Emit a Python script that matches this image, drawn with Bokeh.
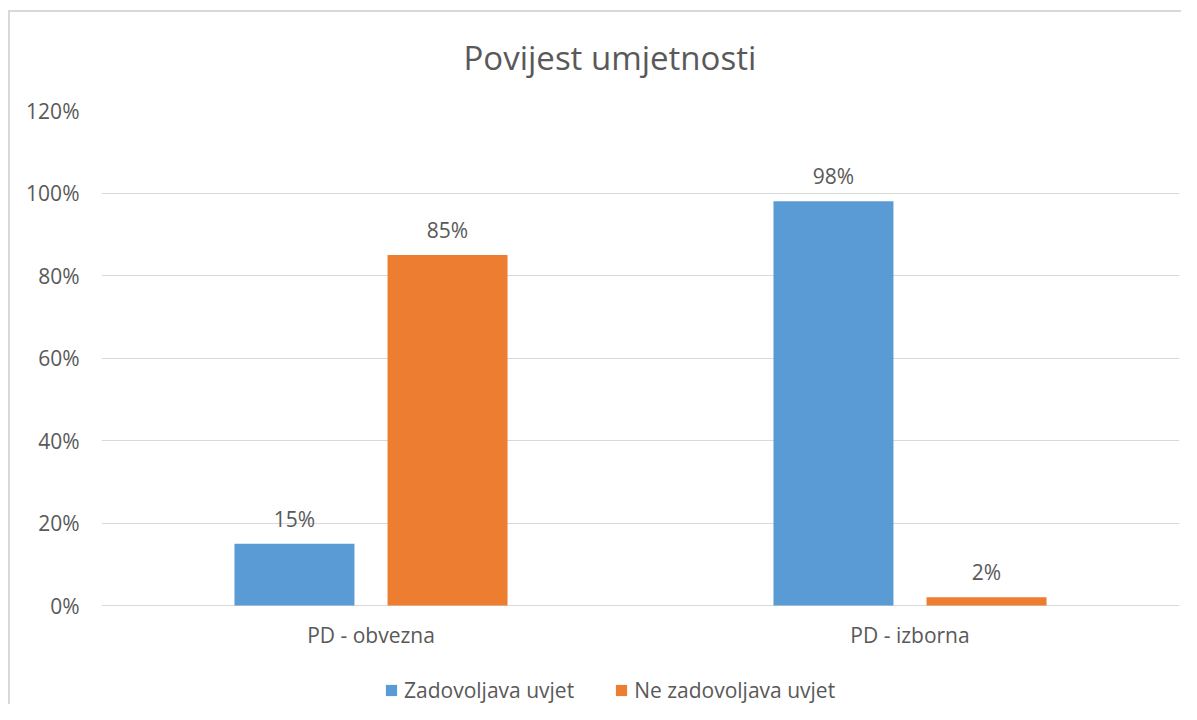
from bokeh.plotting import figure
from bokeh.models import ColumnDataSource, Range1d, FactorRange, NumeralTickFormatter, Legend, LegendItem
from bokeh.transform import dodge
from bokeh.embed import file_html
from bokeh.resources import INLINE
from bokeh.core.properties import value

categories = ["PD - obvezna", "PD - izborna"]
series_names = ["Zadovoljava uvjet", "Ne zadovoljava uvjet"]
zadovoljava = [0.15, 0.98]
ne_zadovoljava = [0.85, 0.02]
colors = ["#5B9BD5", "#ED7D31"]
y_ticks = [0, 0.2, 0.4, 0.6, 0.8, 1.0, 1.2]
title_text = "Povijest umjetnosti"

FONT = "Open Sans"
TXT = "#595959"

src = ColumnDataSource(dict(
    cat=categories,
    z=zadovoljava,
    n=ne_zadovoljava,
    base=[0] * len(categories),
    zl=[f"{round(v*100)}%" for v in zadovoljava],
    nl=[f"{round(v*100)}%" for v in ne_zadovoljava],
))

# frame runs to the bottom of the canvas so that category labels and legend sit inside it
p = figure(width=1181, height=704, x_range=FactorRange(*categories), y_range=Range1d(-0.24, 1.2),
           output_backend="svg", toolbar_location=None, x_axis_location=None,
           min_border_left=101, min_border_right=2, min_border_top=110, min_border_bottom=0)
p.border_fill_alpha = 0
p.styles = {
    "background-color": "white",
    "background-image": "linear-gradient(#d9d9d9, #d9d9d9), linear-gradient(#d9d9d9, #d9d9d9)",
    "background-size": "2px 100%, 100% 2px",
    "background-position": "8px 10px, 8px 10px",
    "background-repeat": "no-repeat",
}

p.title.text = title_text
p.title.align = "left"
p.title.offset = 362
p.title.text_font = FONT
p.title.text_font_size = "33px"
p.title.text_font_style = "normal"
p.title.text_color = TXT
p.title.standoff = 62

off = 0.142
w = 0.2226
r1 = p.vbar(x=dodge("cat", -off, range=p.x_range), top="z", width=w, source=src, color=colors[0], line_color=None)
r2 = p.vbar(x=dodge("cat", off, range=p.x_range), top="n", width=w, source=src, color=colors[1], line_color=None)

for col, lab, o in (("z", "zl", -off), ("n", "nl", off)):
    p.text(x=dodge("cat", o, range=p.x_range), y=col, text=lab, source=src,
           text_align="center", text_baseline="alphabetic", y_offset=-25,
           text_font=value(FONT), text_font_size="21px", text_color=TXT)

# category labels under the zero line
p.text(x="cat", y="base", text="cat", source=src, text_align="center", text_baseline="alphabetic",
       y_offset=29, text_font=value(FONT), text_font_size="21px", text_color=TXT)

p.yaxis.ticker = y_ticks
p.yaxis.formatter = NumeralTickFormatter(format="0%")
p.yaxis.axis_line_color = None
p.yaxis.major_tick_line_color = None
p.yaxis.minor_tick_line_color = None
p.yaxis.major_label_text_font = FONT
p.yaxis.major_label_text_font_size = "21px"
p.yaxis.major_label_text_color = TXT
p.yaxis.major_label_standoff = 16

p.xgrid.grid_line_color = None
p.ygrid.grid_line_color = "#d9d9d9"
p.ygrid.grid_line_width = 1
p.outline_line_color = None

legend = Legend(items=[LegendItem(label=series_names[0], renderers=[r1]),
                       LegendItem(label=series_names[1], renderers=[r2])],
                orientation="horizontal", location=(283, 0),
                label_text_font=FONT, label_text_font_size="21px", label_text_color=TXT,
                glyph_width=14, glyph_height=14, spacing=40, label_standoff=6,
                padding=0, margin=0,
                border_line_color=None, background_fill_alpha=0)
p.add_layout(legend)

open("out.html", "w").write(file_html(p, INLINE))
